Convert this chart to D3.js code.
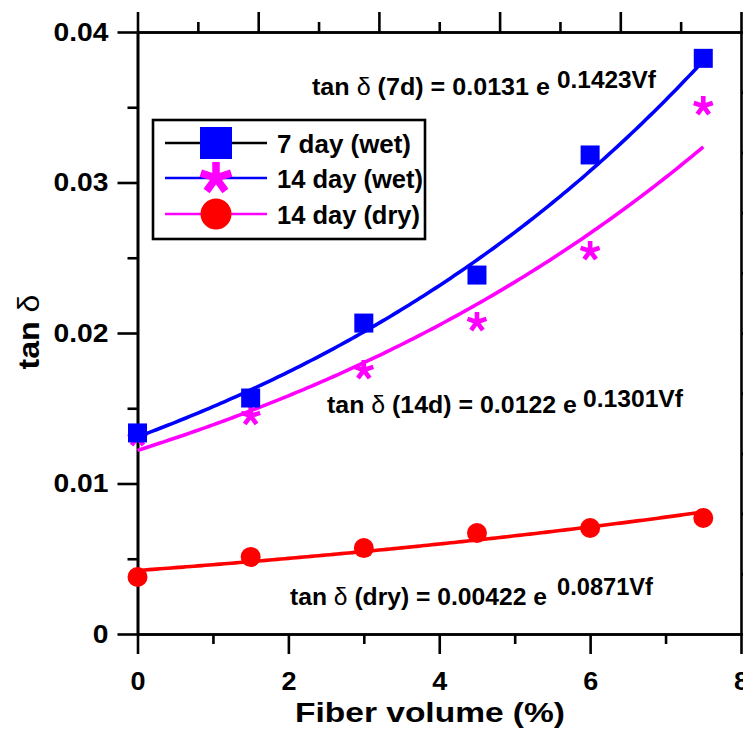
<!DOCTYPE html>
<html><head><meta charset="utf-8">
<script src="https://d3js.org/d3.v7.min.js"></script>
<style>
body{margin:0;background:#fff}
svg{display:block}
text{font-family:Arial,"Liberation Sans",sans-serif;font-weight:bold;fill:#000}
</style></head>
<body><svg width="743" height="731"></svg>
<script>
// ---- data ----
const fiberVolume = [0, 1.5, 3, 4.5, 6, 7.5];
const tan7dWet  = [0.01336, 0.01568, 0.02066, 0.02385, 0.03183, 0.03825];
const tan14dWet = [0.01309, 0.01449, 0.01754, 0.02073, 0.02545, 0.03508];
const tan14dDry = [0.00379, 0.00512, 0.00571, 0.00671, 0.00704, 0.00771];
const seriesNames = ["7 day (wet)", "14 day (wet)", "14 day (dry)"];
// fitted exponential curves tan δ = A e^(B Vf), as printed on the chart
const fitA = [0.0131, 0.0122, 0.00422];
const fitB = [0.1423, 0.1301, 0.0871];
const fitMain = ["tan δ (7d) = 0.0131 e", "tan δ (14d) = 0.0122 e", "tan δ (dry) = 0.00422 e"];
const fitExp = ["0.1423Vf", "0.1301Vf", "0.0871Vf"];
const xTicks = [0, 2, 4, 6, 8];
const xMinor = [1, 3, 5, 7];
const yTicks = [0, 0.01, 0.02, 0.03, 0.04];
const yMinor = [0.005, 0.015, 0.025, 0.035];
const xLabel = "Fiber volume (%)";
const yLabel = "tan δ";

// ---- layout ----
const svg = d3.select("svg");
const L = 137.5, R = 741, T = 32, B = 634;
const x = d3.scaleLinear([0, 8], [L, R]);
const y = d3.scaleLinear([0, 0.04], [B, T]);
const xTop = d3.scaleLinear([0, 10], [L, R]);
const yRight = d3.scaleLinear([0, 10], [B, T]);
const SW = 2.6;

function styleAxis(g){
  g.selectAll("path.domain").attr("stroke", "#000").attr("stroke-width", SW);
  g.selectAll(".tick line").attr("stroke", "#000").attr("stroke-width", SW);
  g.attr("font-family", null).attr("font-size", null);
}
// bottom
svg.append("g").attr("transform", `translate(0,${B})`)
  .call(d3.axisBottom(x).tickValues(xMinor).tickSize(10).tickSizeOuter(0).tickFormat(""))
  .call(styleAxis);
const gx = svg.append("g").attr("transform", `translate(0,${B})`)
  .call(d3.axisBottom(x).tickValues(xTicks).tickSize(20).tickSizeOuter(0).tickPadding(18).tickFormat(d3.format("d")))
  .call(styleAxis);
gx.selectAll("text").attr("font-size", 25).attr("fill", "#000");
// left
svg.append("g").attr("transform", `translate(${L},0)`)
  .call(d3.axisLeft(y).tickValues(yMinor).tickSize(10).tickSizeOuter(0).tickFormat(""))
  .call(styleAxis);
const gy = svg.append("g").attr("transform", `translate(${L},0)`)
  .call(d3.axisLeft(y).tickValues(yTicks).tickSize(20).tickSizeOuter(0).tickPadding(9)
    .tickFormat(d => d === 0 ? "0" : d3.format(".2f")(d)))
  .call(styleAxis);
gy.selectAll("text").attr("font-size", 25).attr("fill", "#000");
// top
svg.append("g").attr("transform", `translate(0,${T})`)
  .call(d3.axisTop(xTop).tickValues(d3.range(1, 10, 2)).tickSize(10).tickSizeOuter(0).tickFormat(""))
  .call(styleAxis);
svg.append("g").attr("transform", `translate(0,${T})`)
  .call(d3.axisTop(xTop).tickValues(d3.range(0, 11, 2)).tickSize(20).tickSizeOuter(0).tickFormat(""))
  .call(styleAxis);
// right
svg.append("g").attr("transform", `translate(${R},0)`)
  .call(d3.axisRight(yRight).tickValues(d3.range(0, 11, 1)).tickSize(10).tickSizeOuter(0).tickFormat(""))
  .call(styleAxis);

// stretch tick labels slightly (reference font is wide)
function stretch(sel, k){ sel.each(function(){ const w = this.getComputedTextLength(); d3.select(this).attr("textLength", w*k).attr("lengthAdjust", "spacingAndGlyphs"); }); }
stretch(gy.selectAll("text"), 1.13);
stretch(gx.selectAll("text"), 1.08);

// ---- fit curves ----
const fitColors = ["#0000ff", "#ff00ff", "#ff0000"];
const line = d3.line().x(d => x(d[0])).y(d => y(d[1]));
const vfRange = d3.range(0, 7.5001, 0.05);
fitA.forEach((a, i) => {
  const pts = vfRange.map(v => [v, a * Math.exp(fitB[i] * v)]);
  svg.append("path").attr("d", line(pts)).attr("fill", "none")
    .attr("stroke", fitColors[i]).attr("stroke-width", 3.6).attr("stroke-linejoin", "round");
});

// ---- markers ----
function asteriskPath(r){
  let p = "";
  for (let k = 0; k < 5; k++){
    const a = (-90 + k*72) * Math.PI/180;
    p += `M0,0L${(r*Math.cos(a)).toFixed(2)},${(r*Math.sin(a)).toFixed(2)}`;
  }
  return p;
}
function drawSquare(g, cx, cy, s){ g.append("rect").attr("x", cx - s/2).attr("y", cy - s/2).attr("width", s).attr("height", s).attr("fill", "#0000ff"); }
function drawStar(g, cx, cy, r, sw){ g.append("path").attr("transform", `translate(${cx},${cy})`).attr("d", asteriskPath(r)).attr("stroke", "#ff00ff").attr("stroke-width", sw).attr("fill", "none"); }
function drawCircle(g, cx, cy, r){ g.append("circle").attr("cx", cx).attr("cy", cy).attr("r", r).attr("fill", "#ff0000"); }

const gm = svg.append("g");
fiberVolume.forEach((v, i) => drawCircle(gm, x(v), y(tan14dDry[i]), 10));
fiberVolume.forEach((v, i) => drawStar(gm, x(v), y(tan14dWet[i]), 10, 4.6));
fiberVolume.forEach((v, i) => drawSquare(gm, x(v), y(tan7dWet[i]), 19));

// ---- legend ----
const lg = svg.append("g");
lg.append("rect").attr("x", 153).attr("y", 120).attr("width", 272).attr("height", 119)
  .attr("fill", "#fff").attr("stroke", "#000").attr("stroke-width", SW);
const rowY = [143, 178, 214];
const legLineColors = ["#000000", "#0000ff", "#ff00ff"];
const legLen = [134, 146, 143];
rowY.forEach((ry, i) => {
  lg.append("line").attr("x1", 165).attr("x2", 267).attr("y1", ry).attr("y2", ry)
    .attr("stroke", legLineColors[i]).attr("stroke-width", 2.6);
  if (i === 0) drawSquare(lg, 216, ry, 32);
  if (i === 1) drawStar(lg, 216, ry, 16, 7.5);
  if (i === 2) drawCircle(lg, 216, ry, 15.5);
  lg.append("text").attr("x", 277).attr("y", ry + 9.5).attr("font-size", 26.5)
    .attr("textLength", legLen[i]).attr("lengthAdjust", "spacingAndGlyphs").text(seriesNames[i]);
});

// ---- equations ----
const eqPos = [
  {x: 312, y: 95, len: 238, sx: 557, sy: 88, slen: 99},
  {x: 327, y: 413, len: 250, sx: 583, sy: 407, slen: 100},
  {x: 290, y: 605, len: 257, sx: 557, sy: 595, slen: 96}
];
fitMain.forEach((s, i) => {
  const p = eqPos[i];
  const parts = s.split("δ");
  const t = svg.append("text").attr("x", p.x).attr("y", p.y).attr("font-size", 23)
    .attr("textLength", p.len).attr("lengthAdjust", "spacingAndGlyphs");
  t.append("tspan").text(parts[0]);
  t.append("tspan").attr("font-weight", "normal").text("δ");
  t.append("tspan").text(parts[1]);
  svg.append("text").attr("x", p.sx).attr("y", p.sy).attr("font-size", 23)
    .attr("textLength", p.slen).attr("lengthAdjust", "spacingAndGlyphs").text(fitExp[i]);
});

// ---- axis titles ----
svg.append("text").attr("x", 430).attr("y", 722).attr("text-anchor", "middle").attr("font-size", 28)
  .attr("textLength", 270).attr("lengthAdjust", "spacingAndGlyphs").text(xLabel);
const yt = svg.append("text").attr("transform", "translate(39,332) rotate(-90)").attr("text-anchor", "middle")
  .attr("font-size", 30).attr("textLength", 75).attr("lengthAdjust", "spacingAndGlyphs");
yt.append("tspan").text("tan ");
yt.append("tspan").attr("font-weight", "normal").text("δ");
</script></body></html>
